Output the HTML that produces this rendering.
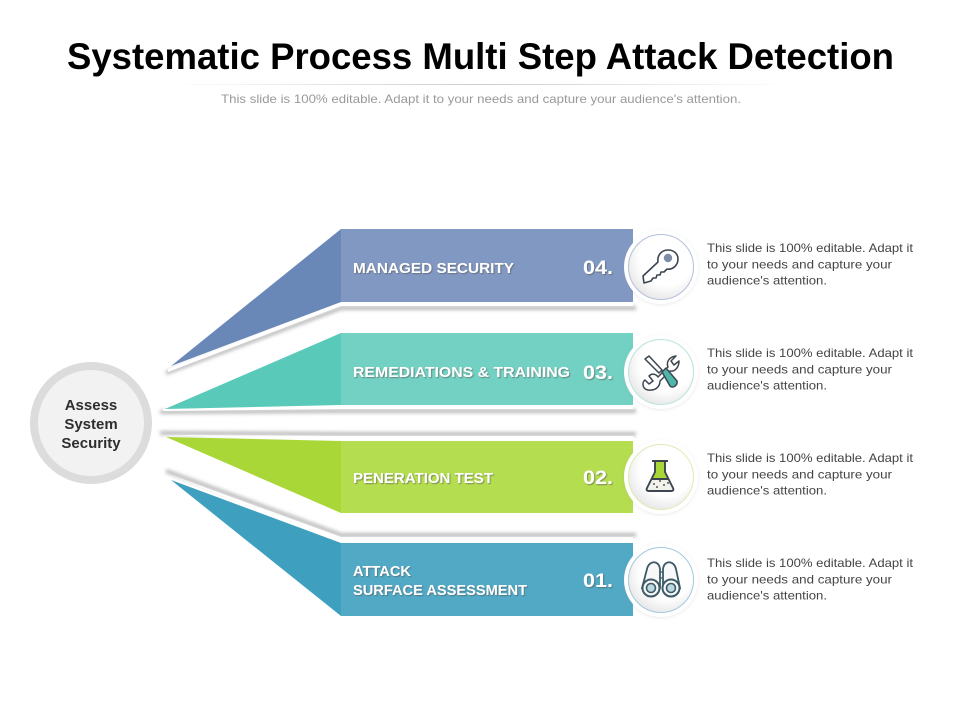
<!DOCTYPE html>
<html><head><meta charset="utf-8"><style>
html,body{margin:0;padding:0;background:#fff}
svg{display:block}
text{font-family:"Liberation Sans",sans-serif}
.lb{font-weight:bold;font-size:14.5px;fill:#fff}
.nm{font-weight:bold;font-size:19px;fill:#fff}
.d{font-size:12px;fill:#444}
.c{font-weight:bold;font-size:15px;fill:#2e2e2e;text-anchor:middle}
</style></head><body>
<svg width="960" height="720" viewBox="0 0 960 720" xmlns="http://www.w3.org/2000/svg">
<defs>
<filter id="b" x="-10%" y="-100%" width="120%" height="300%"><feGaussianBlur stdDeviation="1.8"/></filter>
<filter id="ts" x="-10%" y="-30%" width="120%" height="160%"><feDropShadow dx="1" dy="1" stdDeviation="0.6" flood-color="#555" flood-opacity=".6"/></filter>
<filter id="cs" x="-30%" y="-30%" width="160%" height="160%"><feDropShadow dx="0" dy="1" stdDeviation="1.5" flood-color="#999" flood-opacity=".2"/></filter>
<linearGradient id="ln" x1="0" x2="1"><stop offset="0" stop-color="#ccc" stop-opacity="0"/><stop offset=".5" stop-color="#ccc"/><stop offset="1" stop-color="#ccc" stop-opacity="0"/></linearGradient>
<radialGradient id="ci" cx=".58" cy=".38" r=".68"><stop offset=".6" stop-color="#fff"/><stop offset="1" stop-color="#e4e4e4"/></radialGradient>
</defs>
<rect width="960" height="720" fill="#fff"/>

<text x="67" y="69" font-size="37" font-weight="bold" fill="#000" textLength="827" lengthAdjust="spacingAndGlyphs">Systematic Process Multi Step Attack Detection</text>
<rect x="165" y="84" width="630" height="1" fill="url(#ln)"/>
<text x="221" y="103" font-size="12" fill="#999" textLength="520" lengthAdjust="spacingAndGlyphs">This slide is 100% editable. Adapt it to your needs and capture your audience's attention.</text>

<!-- shadows -->
<g fill="none" stroke="#bbb" stroke-width="4" filter="url(#b)">
<path d="M166 373L341 308H636"/>
<path d="M160 412L341 411H636"/>
<path d="M160 433L341 434H636"/>
<path d="M166 471L341 535H636"/>
</g>
<g fill="#fff">
<path d="M168 369L341 302H633V306H341L168 372Z"/>
<path d="M163 409L341 405H633V409H341L163 411Z"/>
<path d="M163 435L341 436H633V441H341Z"/>
<path d="M168 474L341 537H633V543H341Z"/>
</g>

<!-- bands -->
<path d="M341 229L171 366L341 302Z" fill="#6a88b7"/>
<rect x="341" y="229" width="292" height="73" fill="#8198c2"/>
<path d="M341 333L165 409L341 405Z" fill="#59c9b9"/>
<rect x="341" y="333" width="292" height="72" fill="#72d1c2"/>
<path d="M341 441L166 437L341 513Z" fill="#a9d738"/>
<rect x="341" y="441" width="292" height="72" fill="#b5dd50"/>
<path d="M341 543L171 480L341 616Z" fill="#3f9fbf"/>
<rect x="341" y="543" width="292" height="73" fill="#51a9c6"/>

<!-- band labels -->
<g filter="url(#ts)">
<text class="lb" x="353" y="273" textLength="161" lengthAdjust="spacingAndGlyphs">MANAGED SECURITY</text>
<text class="lb" x="353" y="377" textLength="217" lengthAdjust="spacingAndGlyphs">REMEDIATIONS &amp; TRAINING</text>
<text class="lb" x="353" y="483" textLength="140" lengthAdjust="spacingAndGlyphs">PENERATION TEST</text>
<text class="lb" x="353" y="576" textLength="58" lengthAdjust="spacingAndGlyphs">ATTACK</text>
<text class="lb" x="353" y="595" textLength="174" lengthAdjust="spacingAndGlyphs">SURFACE ASSESSMENT</text>
<text class="nm" x="583" y="274" textLength="30" lengthAdjust="spacingAndGlyphs">04.</text>
<text class="nm" x="583" y="379" textLength="30" lengthAdjust="spacingAndGlyphs">03.</text>
<text class="nm" x="583" y="484" textLength="30" lengthAdjust="spacingAndGlyphs">02.</text>
<text class="nm" x="583" y="587" textLength="30" lengthAdjust="spacingAndGlyphs">01.</text>
</g>

<!-- left circle -->
<circle cx="91" cy="423" r="57" fill="#f2f2f2" stroke="#dcdcdc" stroke-width="8"/>
<text class="c" x="91" y="410">Assess</text>
<text class="c" x="91" y="429">System</text>
<text class="c" x="91" y="448">Security</text>

<!-- icon circles -->
<g filter="url(#cs)" fill="#fff">
<circle cx="661" cy="267" r="37"/>
<circle cx="661" cy="372" r="37"/>
<circle cx="661" cy="477" r="37"/>
<circle cx="661" cy="580" r="37"/>
</g>
<circle cx="661" cy="267" r="32.5" fill="url(#ci)" stroke="#b4c0da" stroke-width="1"/>
<circle cx="661" cy="372" r="32.5" fill="url(#ci)" stroke="#b6e4dc" stroke-width="1"/>
<circle cx="661" cy="477" r="32.5" fill="url(#ci)" stroke="#dcecb4" stroke-width="1"/>
<circle cx="661" cy="580" r="32.5" fill="url(#ci)" stroke="#9fcbdb" stroke-width="1"/>

<!-- key -->
<g stroke="#3d4650" stroke-width="1.6" stroke-linejoin="round" fill="#fff">
<path d="M643 276L644 283L651 281L653 278L656 278L657 275L660 275L661 272L664 272L667 269C673 270 678 265 678 259C678 253 673 250 668 250C661 250 657 256 658 262Z"/>
<circle cx="668" cy="258" r="3.4" fill="#7e8ca6" stroke="#7e8ca6"/>
</g>

<!-- tools -->
<g stroke="#3d4650" stroke-width="1.5" stroke-linejoin="round" fill="#fff">
<path d="M645 359L649 356L662 370L659 373Z"/>
<path d="M648 390C642 389 642 382 645 380L649 384L653 381L649 376C652 373 656 374 658 377L668 367C666 362 669 357 676 356L671 361L674 365L679 361C679 367 675 372 670 371L660 381C660 387 655 391 648 390Z"/>
<path d="M662 372L666 368L677 381C678 385 673 389 670 386Z" fill="#4fb6ab"/>
</g>

<!-- flask -->
<g stroke="#3d4650" stroke-width="1.9" stroke-linejoin="round">
<path d="M655 461H665V472L668 478H652L655 472Z" fill="#a9d738" stroke="none"/>
<path d="M652 478H668L673 488C674 490 673 491 671 491H649C647 491 646 490 647 488Z" fill="#f2f2ec" stroke="none"/>
<path d="M652 461H668M655 461V472L647 488C646 490 647 491 649 491H671C673 491 674 490 673 488L665 472V461" fill="none"/>
<path d="M651 479H669" fill="none"/>
</g>
<g fill="#555"><circle cx="654" cy="484" r="1"/><circle cx="660" cy="481" r="1"/><circle cx="664" cy="485" r="1"/><circle cx="668" cy="483" r="1"/><circle cx="657" cy="487" r="1"/></g>

<!-- binoculars -->
<g stroke="#3d5a66" stroke-width="1.8" fill="#f8f8f8">
<path d="M642 588L647 569C649 560 659 560 660 569V588Z"/>
<path d="M663 588V569C664 560 674 560 676 569L680 588Z"/>
<path d="M660 572H663M660 578H663" fill="none" stroke-width="1.2"/>
<circle cx="651" cy="588" r="8.5" fill="#f8f8f8" stroke-width="2"/>
<circle cx="671" cy="588" r="8.5" fill="#f8f8f8" stroke-width="2"/>
<circle cx="651" cy="588" r="4.5" fill="#bcd9e2" stroke-width="1.6"/>
<circle cx="671" cy="588" r="4.5" fill="#bcd9e2" stroke-width="1.6"/>
</g>

<!-- descriptions -->
<g>
<text class="d" x="707" y="252" textLength="206" lengthAdjust="spacingAndGlyphs">This slide is 100% editable. Adapt it</text>
<text class="d" x="707" y="268.5" textLength="185" lengthAdjust="spacingAndGlyphs">to your needs and capture your</text>
<text class="d" x="707" y="284.5" textLength="120" lengthAdjust="spacingAndGlyphs">audience's attention.</text>
<text class="d" x="707" y="357" textLength="206" lengthAdjust="spacingAndGlyphs">This slide is 100% editable. Adapt it</text>
<text class="d" x="707" y="373.5" textLength="185" lengthAdjust="spacingAndGlyphs">to your needs and capture your</text>
<text class="d" x="707" y="389.5" textLength="120" lengthAdjust="spacingAndGlyphs">audience's attention.</text>
<text class="d" x="707" y="462" textLength="206" lengthAdjust="spacingAndGlyphs">This slide is 100% editable. Adapt it</text>
<text class="d" x="707" y="478.5" textLength="185" lengthAdjust="spacingAndGlyphs">to your needs and capture your</text>
<text class="d" x="707" y="494.5" textLength="120" lengthAdjust="spacingAndGlyphs">audience's attention.</text>
<text class="d" x="707" y="567" textLength="206" lengthAdjust="spacingAndGlyphs">This slide is 100% editable. Adapt it</text>
<text class="d" x="707" y="583.5" textLength="185" lengthAdjust="spacingAndGlyphs">to your needs and capture your</text>
<text class="d" x="707" y="599.5" textLength="120" lengthAdjust="spacingAndGlyphs">audience's attention.</text>
</g>
</svg>
</body></html>
